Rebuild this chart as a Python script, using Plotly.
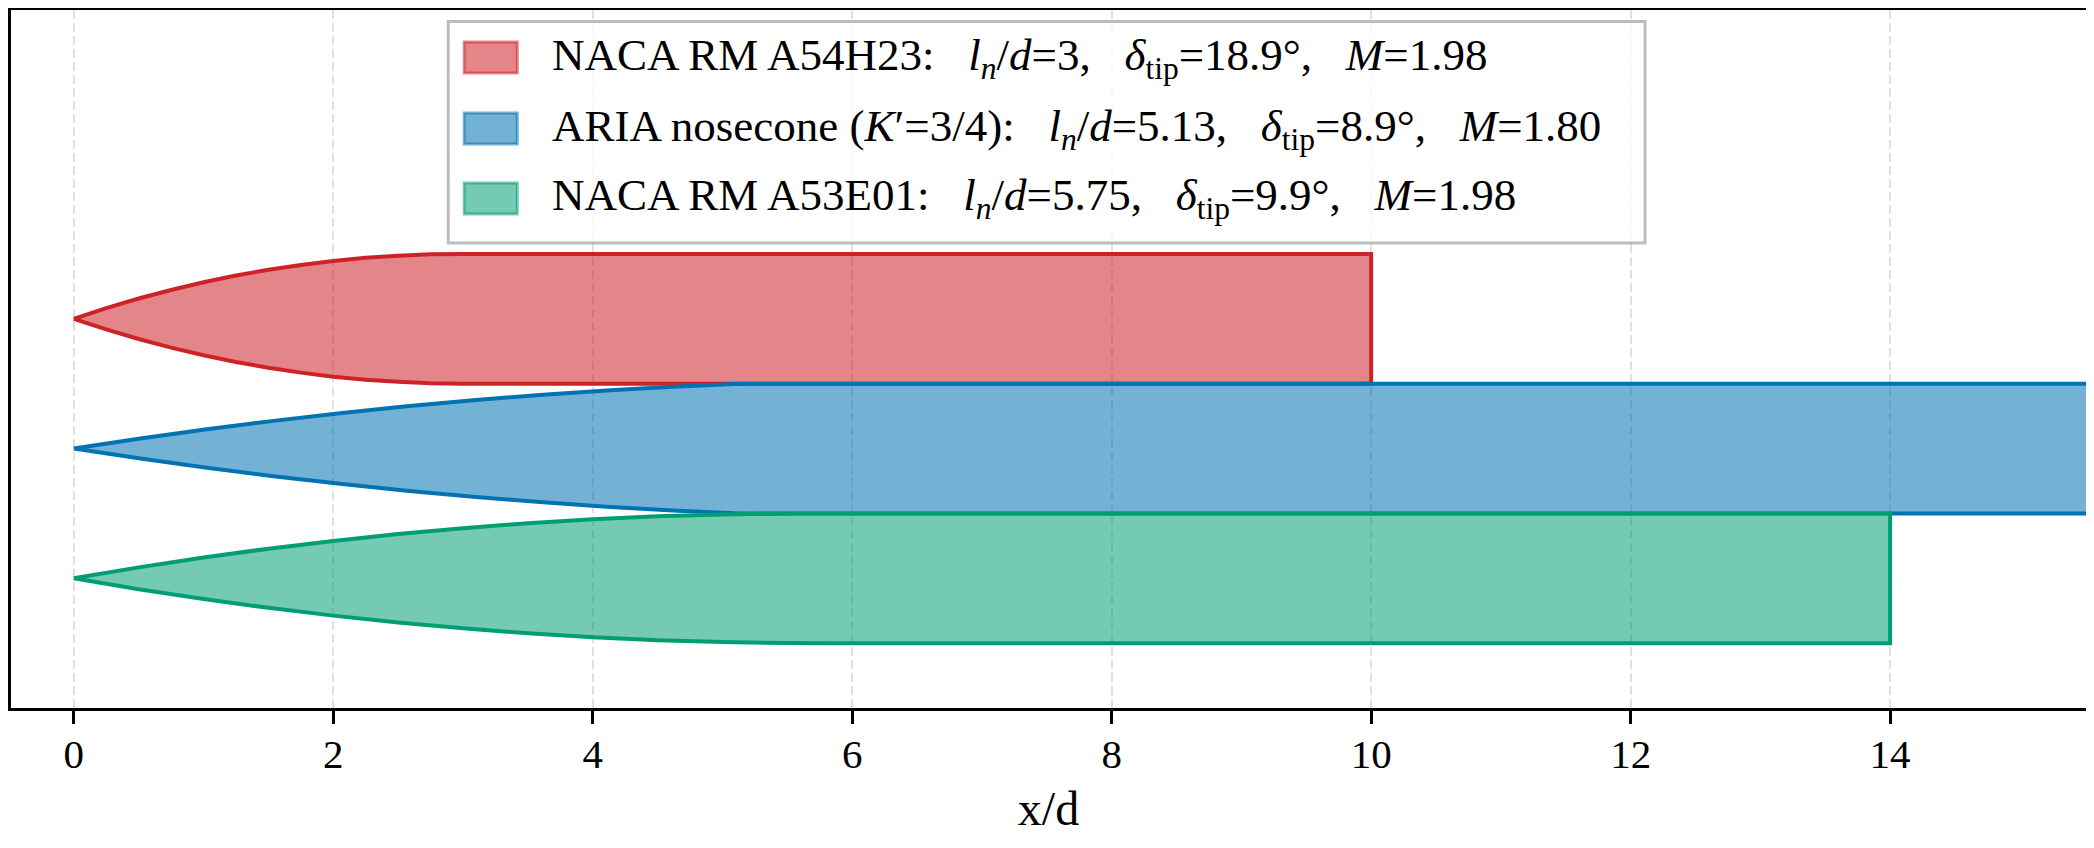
import plotly.graph_objects as go

# ---------------- data ----------------
SP = "\u00a0\u00a0\u00a0"
labels = [
    "NACA RM A54H23:" + SP + "<i>l</i><sub><i>n</i></sub>/<i>d</i>=3," + SP
    + "<i>δ</i><sub>tip</sub>=18.9°," + SP + "<i>M</i>=1.98",
    "ARIA nosecone (<i>K</i>′=3/4):" + SP + "<i>l</i><sub><i>n</i></sub>/<i>d</i>=5.13," + SP
    + "<i>δ</i><sub>tip</sub>=8.9°," + SP + "<i>M</i>=1.80",
    "NACA RM A53E01:" + SP + "<i>l</i><sub><i>n</i></sub>/<i>d</i>=5.75," + SP
    + "<i>δ</i><sub>tip</sub>=9.9°," + SP + "<i>M</i>=1.98",
]

# nose profiles: axial station x/d and local radius r/d
red_nose_x = [0, 0.25, 0.5, 0.75, 1.0, 1.25, 1.5, 1.75, 2.0, 2.25, 2.5, 2.75, 3.0]
red_nose_r = [0, 0.082, 0.156, 0.222, 0.281, 0.333, 0.378, 0.415, 0.446, 0.470, 0.486, 0.497, 0.5]

blue_nose_x = [0, 0.513, 1.026, 1.539, 2.052, 2.565, 3.078, 3.591, 4.104, 4.617, 5.13]
blue_nose_r = [0, 0.077, 0.148, 0.213, 0.272, 0.325, 0.372, 0.413, 0.448, 0.477, 0.5]

green_nose_x = [0, 0.5, 1.0, 1.5, 2.0, 2.5, 3.0, 3.5, 4.0, 4.5, 5.0, 5.5, 5.75]
green_nose_r = [0, 0.084, 0.160, 0.228, 0.288, 0.341, 0.386, 0.424, 0.454, 0.477, 0.492, 0.499, 0.5]

body_end = [10, 16.5, 14]          # x/d where each body ends
row_center = [1, 0, -1]            # vertical offset of each body axis

x_ticks = [0, 2, 4, 6, 8, 10, 12, 14]

# ---------------- styling ----------------
line_rgb = [(205, 35, 40), (1, 115, 178), (2, 158, 115)]
FILL_A = 0.55
FONT = "Liberation Serif, Times New Roman, serif"

# page has an 8px body margin; figure occupies (8..2094, 8..848)
OFF = 8
W, H = 2094 - OFF, 848 - OFF
PL, PR, PT, PB = 10.7, 2086, 10, 708      # plot area in page pixels
ML, MR, MT, MB = PL - OFF, 2094 - PR, PT - OFF, 848 - PB
PW, PH = PR - PL, PB - PT


def px_x(px):
    return (px - PL) / PW


def px_y(py):
    return (PB - py) / PH


fig = go.Figure()

noses = [(red_nose_x, red_nose_r), (blue_nose_x, blue_nose_r), (green_nose_x, green_nose_r)]
for i, (nx, nr) in enumerate(noses):
    c = row_center[i]
    xs = list(nx) + [body_end[i], body_end[i]] + list(reversed(nx))
    ys = [c + r for r in nr] + [c + 0.5, c - 0.5] + [c - r for r in reversed(nr)]
    r_, g_, b_ = line_rgb[i]
    fig.add_trace(go.Scatter(
        x=xs, y=ys, mode="lines", fill="toself",
        fillcolor=f"rgba({r_},{g_},{b_},{FILL_A})",
        line=dict(color=f"rgb({r_},{g_},{b_})", width=4, simplify=False),
        name=labels[i], showlegend=False, hoverinfo="skip",
    ))

# ---------------- legend (drawn as box + patches + labels) ----------------
shapes = [dict(
    type="rect", xref="paper", yref="paper",
    x0=px_x(448), x1=px_x(1645), y0=px_y(243), y1=px_y(21.5),
    fillcolor="rgba(255,255,255,0.8)", line=dict(color="#bdbdbd", width=3),
    layer="above",
)]
annotations = []
row_y = [57.5, 128.5, 198.5]
for i in range(3):
    r_, g_, b_ = line_rgb[i]
    shapes.append(dict(
        type="rect", xref="paper", yref="paper",
        x0=px_x(464), x1=px_x(517), y0=px_y(row_y[i] + 15.5), y1=px_y(row_y[i] - 15.5),
        fillcolor=f"rgba({r_},{g_},{b_},{FILL_A})",
        line=dict(color=f"rgba({r_},{g_},{b_},{FILL_A})", width=3),
        layer="above",
    ))
    annotations.append(dict(
        xref="paper", yref="paper", x=px_x(550), y=px_y(row_y[i]),
        xanchor="left", yanchor="middle", showarrow=False,
        text=labels[i], font=dict(family=FONT, size=45, color="black"),
    ))

fig.update_layout(
    width=W, height=H,
    margin=dict(l=ML, r=MR, t=MT, b=MB, autoexpand=False),
    paper_bgcolor="white", plot_bgcolor="white",
    showlegend=False,
    shapes=shapes, annotations=annotations,
    font=dict(family=FONT, color="black"),
)
fig.update_xaxes(
    range=[-0.484, 15.51], tickvals=x_ticks, ticktext=[str(t) for t in x_ticks],
    ticks="outside", ticklen=13, tickwidth=3, tickcolor="black",
    ticklabelstandoff=-5,
    tickfont=dict(family=FONT, size=41, color="black"),
    showline=True, linecolor="black", linewidth=3, mirror=True,
    showgrid=True, gridcolor="#e0e0e0", gridwidth=2, griddash="9px,4px",
    zeroline=False,
    title=dict(text="x/d", font=dict(family=FONT, size=48, color="black"), standoff=16),
)
fig.update_yaxes(
    range=[-2.0, 3.38], showticklabels=False, ticks="",
    showline=True, linecolor="black", linewidth=3, mirror=True,
    showgrid=False, zeroline=False,
)

fig.write_html("out.html")
